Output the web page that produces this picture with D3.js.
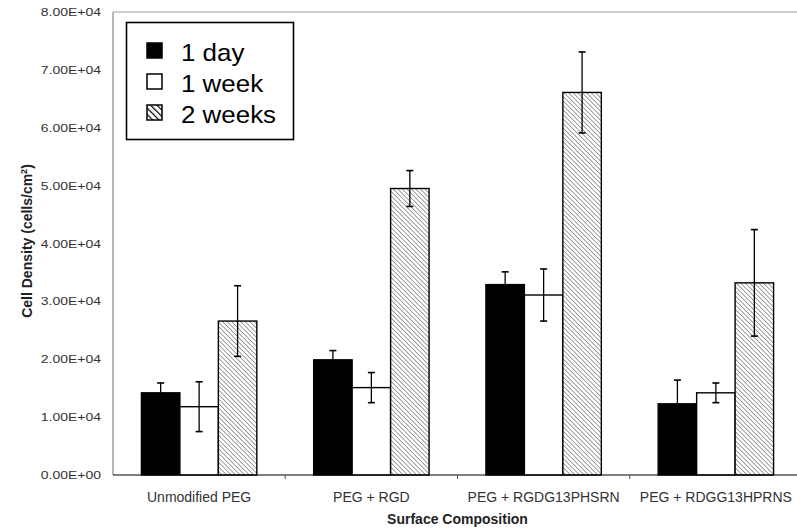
<!DOCTYPE html>
<html>
<head>
<meta charset="utf-8">
<script src="https://cdn.jsdelivr.net/npm/d3@7"></script>
<style>
  body { margin: 0; background: #fff; }
  svg text { font-family: Arial, "Liberation Sans", sans-serif; }
</style>
</head>
<body>
<svg id="chart" width="797" height="530"></svg>
<script>
// data
const categories = ["Unmodified PEG", "PEG + RGD", "PEG + RGDG13PHSRN", "PEG + RDGG13HPRNS"];
const seriesNames = ["1 day", "1 week", "2 weeks"];
const day1 = [14200, 19900, 32900, 12300];
const day1Err = [1700, 1600, 2200, 4100];
const week1 = [11800, 15100, 31100, 14200];
const week1Err = [4300, 2600, 4500, 1700];
const week2 = [26600, 49500, 66100, 33200];
const week2Err = [6100, 3100, 7000, 9200];
const yTicks = [0, 10000, 20000, 30000, 40000, 50000, 60000, 70000, 80000];
const yTickLabels = ["0.00E+00", "1.00E+04", "2.00E+04", "3.00E+04", "4.00E+04",
                     "5.00E+04", "6.00E+04", "7.00E+04", "8.00E+04"];

const values = [day1, week1, week2];
const errors = [day1Err, week1Err, week2Err];

const svg = d3.select("#chart");
const plotL = 113, plotR = 802, plotT = 12, plotB = 475;

// hatch patterns (lines run top-left to bottom-right)
const defs = svg.append("defs");
const pat = defs.append("pattern")
  .attr("id", "hatch")
  .attr("patternUnits", "userSpaceOnUse")
  .attr("width", 3.2).attr("height", 3.2)
  .attr("patternTransform", "rotate(-45)");
pat.append("rect").attr("width", 3.2).attr("height", 3.2).attr("fill", "#fff");
pat.append("line").attr("x1", 0).attr("y1", 0).attr("x2", 0).attr("y2", 3.2)
  .attr("stroke", "#555").attr("stroke-width", 1.1);

const patL = defs.append("pattern")
  .attr("id", "hatchLegend")
  .attr("patternUnits", "userSpaceOnUse")
  .attr("width", 4.5).attr("height", 4.5)
  .attr("patternTransform", "rotate(-45)");
patL.append("rect").attr("width", 4.5).attr("height", 4.5).attr("fill", "#fff");
patL.append("line").attr("x1", 0).attr("y1", 0).attr("x2", 0).attr("y2", 4.5)
  .attr("stroke", "#000").attr("stroke-width", 2.4);

const fills = ["#000", "#fff", "url(#hatch)"];

const y = d3.scaleLinear().domain([0, 80000]).range([plotB, plotT]);
const x = d3.scaleBand().domain(categories).range([plotL, plotR])
  .paddingInner(0.33).paddingOuter(0.165);
const xs = d3.scaleBand().domain(d3.range(3)).range([0, x.bandwidth()]);

// frame: grey left axis and top border
svg.append("line").attr("x1", plotL).attr("x2", plotL).attr("y1", plotT).attr("y2", plotB)
  .attr("stroke", "#888").attr("stroke-width", 1.2);
svg.append("line").attr("x1", plotL).attr("x2", 797).attr("y1", plotT).attr("y2", plotT)
  .attr("stroke", "#999").attr("stroke-width", 1.2);

// y tick labels (stretched a bit, like the scanned figure)
svg.append("g").selectAll("text").data(yTicks).enter().append("text")
  .attr("transform", (d) => "translate(101," + (y(d) + 4) + ") scale(1.25,1)")
  .attr("text-anchor", "end")
  .attr("font-size", 11.2)
  .attr("fill", "#333")
  .text((d, i) => yTickLabels[i]);

// bars
const bars = svg.append("g").attr("class", "bars");
categories.forEach((c, ci) => {
  values.forEach((s, si) => {
    bars.append("rect")
      .attr("x", x(c) + xs(si))
      .attr("y", y(s[ci]))
      .attr("width", xs.bandwidth())
      .attr("height", plotB - y(s[ci]))
      .attr("fill", fills[si])
      .attr("stroke", "#000")
      .attr("stroke-width", 1.4);
  });
});

// error bars
const errs = svg.append("g").attr("class", "errors");
categories.forEach((c, ci) => {
  values.forEach((s, si) => {
    const cx = x(c) + xs(si) + xs.bandwidth() / 2;
    const hi = y(s[ci] + errors[si][ci]);
    const lo = y(s[ci] - errors[si][ci]);
    errs.append("line").attr("x1", cx).attr("x2", cx).attr("y1", hi).attr("y2", lo)
      .attr("stroke", "#000").attr("stroke-width", 1.3);
    [hi, lo].forEach((v) => {
      errs.append("line").attr("x1", cx - 3.5).attr("x2", cx + 3.5).attr("y1", v).attr("y2", v)
        .attr("stroke", "#000").attr("stroke-width", 1.6);
    });
  });
});

// x axis baseline with ticks between categories
const xAxis = svg.append("g").attr("transform", "translate(0," + plotB + ")");
xAxis.append("line").attr("x1", plotL).attr("x2", 797).attr("y1", 0).attr("y2", 0)
  .attr("stroke", "#000").attr("stroke-width", 1.2);
xAxis.selectAll("line.tk").data(categories.slice(1)).enter().append("line")
  .attr("class", "tk")
  .attr("x1", (d) => x(d) - x.step() * x.paddingInner() / 2)
  .attr("x2", (d) => x(d) - x.step() * x.paddingInner() / 2)
  .attr("y1", 0).attr("y2", 4)
  .attr("stroke", "#555");
xAxis.selectAll("text").data(categories).enter().append("text")
  .attr("x", (d) => x(d) + x.bandwidth() / 2)
  .attr("y", 27)
  .attr("text-anchor", "middle")
  .attr("font-size", 14)
  .attr("fill", "#333")
  .text((d) => d);

// axis titles
svg.append("text")
  .attr("x", (plotL + plotR) / 2).attr("y", 524)
  .attr("text-anchor", "middle")
  .attr("font-size", 14).attr("font-weight", "bold")
  .attr("fill", "#222")
  .text("Surface Composition");

const yt = svg.append("text")
  .attr("transform", "translate(32,241) rotate(-90)")
  .attr("text-anchor", "middle")
  .attr("font-size", 14).attr("font-weight", "bold")
  .attr("fill", "#222");
yt.append("tspan").text("Cell Density (cells/cm");
yt.append("tspan").attr("baseline-shift", "super").attr("font-size", 9).text("2");
yt.append("tspan").text(")");

// legend
const lg = svg.append("g");
lg.append("rect").attr("x", 126.5).attr("y", 22.5).attr("width", 167).attr("height", 117)
  .attr("fill", "#fff").attr("stroke", "#000").attr("stroke-width", 1.6);
const legendFills = ["#000", "#fff", "url(#hatchLegend)"];
seriesNames.forEach((n, i) => {
  const by = 61 + i * 31;
  lg.append("rect").attr("x", 147).attr("y", by - 18).attr("width", 15).attr("height", 15)
    .attr("fill", legendFills[i]).attr("stroke", "#000").attr("stroke-width", 1.5);
  lg.append("text")
    .attr("transform", "translate(181," + by + ") scale(1.08,1)")
    .attr("font-size", 24)
    .attr("fill", "#000")
    .text(n);
});
</script>
</body>
</html>
